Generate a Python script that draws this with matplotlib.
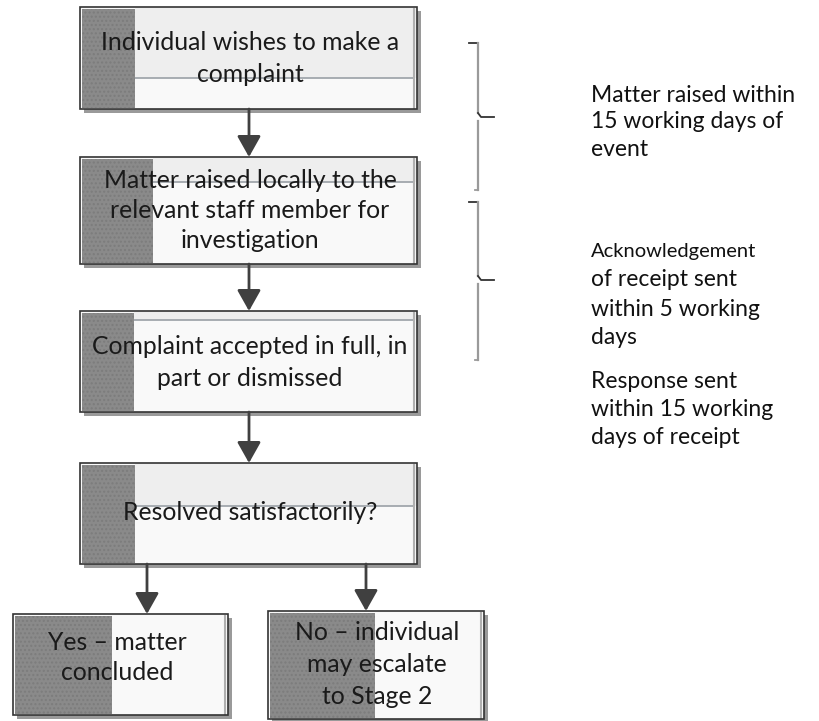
import matplotlib
matplotlib.use("Agg")
import matplotlib.pyplot as plt
from matplotlib.patches import Rectangle

plt.rcParams['font.family'] = ['Lato', 'DejaVu Sans']

# ---- content ----
main_labels = [
    "Individual wishes to make a\ncomplaint",
    "Matter raised locally to the\nrelevant staff member for\ninvestigation",
    "Complaint accepted in full, in\npart or dismissed",
    "Resolved satisfactorily?",
]
outcome_labels = [
    "Yes \u2013 matter\nconcluded",
    "No \u2013 individual\nmay escalate\nto Stage 2",
]
note_lines = [
    ["Matter raised within", "15 working days of", "event"],
    ["Acknowledgement", "of receipt sent", "within 5 working", "days"],
    ["Response sent", "within 15 working", "days of receipt"],
]

# ---- layout (pixels) ----
main_x0, main_x1 = 80, 417
main_boxes = [(7, 109, 135, 78, [43, 75]),
              (157, 264, 153, 182, [180, 211, 241]),
              (311, 412, 134, 320, [347, 378]),
              (463, 564, 135, 506, [513])]
out_boxes = [(13, 228, 614, 715, 112, [643, 672], 117),
             (268, 484, 611, 719, 375, [633, 665, 696], 377)]
arrow_x = 249
note_x = 591
note_y = [[95, 122, 149], [251, 280, 309, 338], [382, 410, 438]]

GRAY = '#8a8a8a'
DARK = '#404040'
BOX_FS = 17.8
NOTE_FS = 16.5

fig = plt.figure(figsize=(8.19, 7.21), dpi=100)
ax = fig.add_axes([0, 0, 1, 1])
ax.set_xlim(0, 819)
ax.set_ylim(721, 0)
ax.axis('off')


def box(x0, x1, y0, y1, strip_x, div_y=None):
    ax.add_patch(Rectangle((x0 + 4, y0 + 4), x1 - x0, y1 - y0, facecolor='#9a9a9a',
                           edgecolor='none', zorder=1))
    ax.add_patch(Rectangle((x0, y0), x1 - x0, y1 - y0, facecolor='#f9f9f9',
                           edgecolor='none', zorder=2))
    if div_y is not None:
        ax.add_patch(Rectangle((strip_x, y0), x1 - strip_x, div_y - y0,
                               facecolor='#eeeeee', edgecolor='none', zorder=2))
        ax.plot([strip_x, x1 - 3], [div_y, div_y], color='#9aa0a6', lw=1.2, zorder=3)
    ax.add_patch(Rectangle((x0 + 2, y0 + 2), strip_x - x0 - 2, y1 - y0 - 3,
                           facecolor=GRAY, edgecolor='#7c7c7c', hatch='....', lw=0,
                           zorder=3))
    ax.plot([x1 - 3, x1 - 3], [y0 + 2, y1 - 1], color='#b0b0b0', lw=1.5, zorder=3)
    ax.add_patch(Rectangle((x0, y0), x1 - x0, y1 - y0, facecolor='none',
                           edgecolor='#333333', lw=1.2, zorder=5))


for lab, (y0, y1, sx, dy, ly) in zip(main_labels, main_boxes):
    box(main_x0, main_x1, y0, y1, sx, dy)
    for line, yy in zip(lab.split('\n'), ly):
        ax.text(250, yy, line, ha='center', va='center', fontsize=BOX_FS,
                color='#1a1a1a', zorder=6)

for lab, (x0, x1, y0, y1, sx, ly, cx) in zip(outcome_labels, out_boxes):
    box(x0, x1, y0, y1, sx)
    for line, yy in zip(lab.split('\n'), ly):
        ax.text(cx, yy, line, ha='center', va='center', fontsize=BOX_FS,
                color='#1a1a1a', zorder=6)


def arrow(x, ya, yb):
    ax.annotate('', xy=(x, yb), xytext=(x, ya),
                arrowprops=dict(arrowstyle='-|>,head_length=0.8,head_width=0.45',
                                color=DARK, lw=2, mutation_scale=16,
                                shrinkA=0, shrinkB=0), zorder=7)


for (ya, yb) in [(109, 157), (264, 311), (412, 463)]:
    arrow(arrow_x, ya, yb)
arrow(147, 564, 614)
arrow(366, 564, 611)

# braces
for (yt, ym, yb) in [(43, 117, 190), (202, 280, 360)]:
    ax.plot([469, 478], [yt, yt], color='#333333', lw=1.3, zorder=4)
    ax.plot([478, 478], [yt, ym - 4], color='#9a9a9a', lw=1.6, zorder=4)
    ax.plot([478, 478], [ym + 4, yb], color='#9a9a9a', lw=1.6, zorder=4)
    ax.plot([478, 481, 494], [ym - 4, ym, ym], color='#333333', lw=1.3, zorder=4)
    ax.plot([475, 478], [yb, yb], color='#9a9a9a', lw=1.3, zorder=4)

for lines, ys in zip(note_lines, note_y):
    for line, yy in zip(lines, ys):
        fs = 14.5 if line == "Acknowledgement" else NOTE_FS
        ax.text(note_x, yy, line, ha='left', va='center', fontsize=fs,
                color='#111111')

fig.savefig('out.png', dpi=100)
